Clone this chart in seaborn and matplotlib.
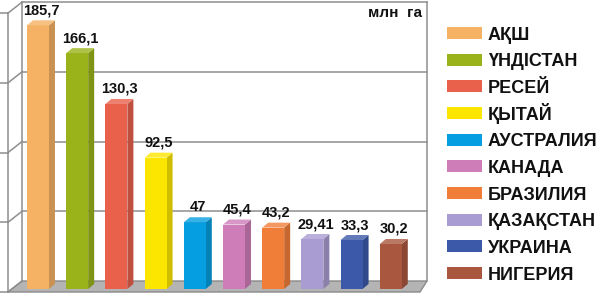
import matplotlib
matplotlib.use("Agg")
import matplotlib.pyplot as plt
import seaborn as sns
import pandas as pd
from matplotlib.patches import Polygon, Rectangle
from matplotlib.colors import to_rgb

# ---------------- data ----------------
countries = ["АҚШ", "ҮНДІСТАН", "РЕСЕЙ", "ҚЫТАЙ", "АУСТРАЛИЯ",
             "КАНАДА", "БРАЗИЛИЯ", "ҚАЗАҚСТАН", "УКРАИНА", "НИГЕРИЯ"]
heights = [185.7, 166.1, 130.3, 92.5, 47.0, 45.4, 43.2, 35.2, 34.5, 31.7]
value_labels = ["185,7", "166,1", "130,3", "92,5", "47", "45,4", "43,2",
                "29,41", "33,3", "30,2"]
colors = ["#F5B264", "#9BB31A", "#E9604B", "#FCE600", "#059EE0",
          "#CE7DB8", "#F07E38", "#A99CD2", "#3B59A8", "#A9573F"]
grid_ticks = [0, 50, 100, 150, 200]
unit_label = "млн  га"

# ---------------- layout ----------------
W, H, DPI = 6.0, 2.94, 100
WPX, HPX = W * DPI, H * DPI
PX_X, X0 = 39.2, 38.0      # px per category, px of first bar centre
PX_Y, Y0 = 1.42, 5.0       # px per unit, px of baseline from bottom
FRAME_SCALE = 0.982        # perspective shrink of walls

plt.rcParams['font.family'] = ['Liberation Sans', 'DejaVu Sans']

fig = plt.figure(figsize=(W, H), dpi=DPI)
ax = fig.add_axes([0, 0, 1, 1])

df = pd.DataFrame({"country": countries, "height": heights})
sns.barplot(data=df, x="country", y="height", hue="country", palette=colors,
            width=0.56, saturation=1, legend=False, ax=ax, zorder=3,
            edgecolor="none", linewidth=0)

ax.set_xlim(-X0 / PX_X, (WPX - X0) / PX_X)
ax.set_ylim(-Y0 / PX_Y, (HPX - Y0) / PX_Y)
ax.axis("off")


def P(x, v, off):
    return (x + off[0] / PX_X, v * FRAME_SCALE + off[1] / PX_Y)


back = (10, 8)
front = (-4, -3)
x_lo = (12 - X0) / PX_X
x_hi = (417 - X0) / PX_X
x_hi_f = (424 - X0) / PX_X
gcol = "#8E8E8E"
vmax = grid_ticks[-1]

# floor
ax.add_patch(Polygon([P(x_lo, 0, back), P(x_hi, 0, back), P(x_hi_f, 0, front),
                      P(x_lo, 0, front)], closed=True, facecolor="#B4B4B4",
                     edgecolor="#8A8A8A", lw=1.0, zorder=1))
# back wall gridlines
for v in grid_ticks[1:]:
    a, b = P(x_lo, v, back), P(x_hi, v, back)
    ax.plot([a[0], b[0]], [a[1], b[1]], color=gcol, lw=1.1, zorder=1)
for xx in (x_lo, x_hi):
    a, b = P(xx, 0, back), P(xx, vmax, back)
    ax.plot([a[0], b[0]], [a[1], b[1]], color=gcol, lw=1.1, zorder=1)
# left wall
a, b = P(x_lo, 0, front), P(x_lo, vmax, front)
ax.plot([a[0], b[0]], [a[1], b[1]], color=gcol, lw=1.1, zorder=1)
for v in grid_ticks:
    a, b = P(x_lo, v, front), P(x_lo, v, back)
    ax.plot([a[0], b[0]], [a[1], b[1]], color=gcol, lw=1.1, zorder=1)
    ax.plot([a[0] - 8 / PX_X, a[0]], [a[1], a[1]], color=gcol, lw=1.1, zorder=1)

# 3D faces of bars
dx, dy = 6 / PX_X, 5 / PX_Y
bars = [p for p in ax.patches if p.get_zorder() == 3]
for p, lbl in zip(bars, value_labels):
    x0, w, h = p.get_x(), p.get_width(), p.get_height()
    c = to_rgb(p.get_facecolor())
    side = tuple(ch * 0.82 for ch in c)
    topc = tuple(ch + (1 - ch) * 0.2 for ch in c)
    ax.add_patch(Polygon([(x0 + w, 0), (x0 + w, h), (x0 + w + dx, h + dy),
                          (x0 + w + dx, dy)], closed=True, facecolor=side,
                         edgecolor="none", zorder=2.9))
    ax.add_patch(Polygon([(x0, h), (x0 + w, h), (x0 + w + dx, h + dy),
                          (x0 + dx, h + dy)], closed=True, facecolor=topc,
                         edgecolor="none", zorder=3.1))
    ax.annotate(lbl, (x0 + w / 2, h), xytext=(2.2, 10.8),
                textcoords="offset points", ha="center", va="center",
                fontsize=10.5, fontweight="bold", color="#111111", zorder=5)

ax.text(422 / WPX, 1 - 13 / HPX, unit_label, transform=ax.transAxes,
        ha="right", va="center", fontsize=11, fontweight="bold", color="#111111")

# legend (uniform rows)
fs = 13
cap = fs * DPI / 72 * 0.72
row0, row_step = 33.0, 26.67
for i, (name, col) in enumerate(zip(countries, colors)):
    yc = row0 + row_step * i
    fig.patches.append(Rectangle((447 / WPX, 1 - (yc + 6) / HPX), 35 / WPX, 12 / HPX,
                                 transform=fig.transFigure, facecolor=col,
                                 edgecolor="none"))
    fig.text(488 / WPX, 1 - (yc + cap / 2) / HPX, name, ha="left", va="baseline",
             fontsize=fs, fontweight="bold", color="#111111")

fig.savefig("out.png", dpi=DPI)
